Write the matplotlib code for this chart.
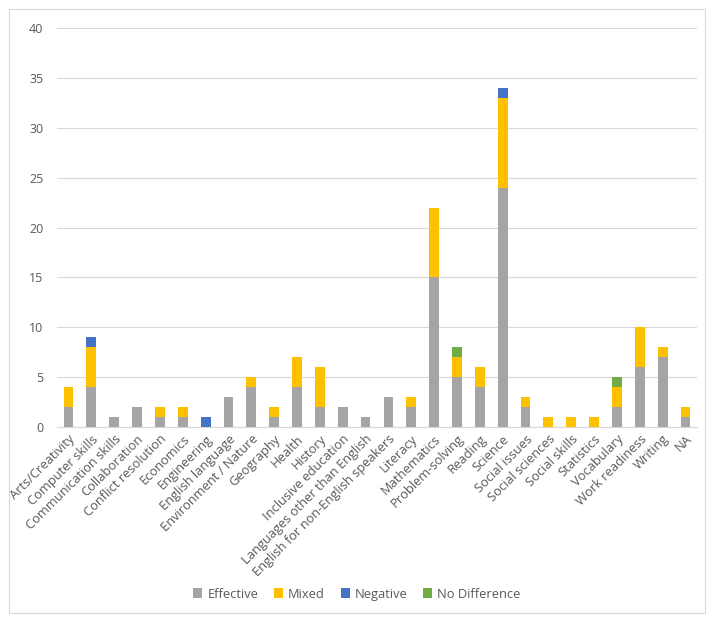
import matplotlib.pyplot as plt
import numpy as np
from matplotlib.patches import Rectangle

categories = ["Arts/Creativity", "Computer skills", "Communication skills", "Collaboration",
              "Conflict resolution", "Economics", "Engineering", "English language",
              "Environment / Nature", "Geography", "Health", "History", "Inclusive education",
              "Languages other than English", "English for non-English speakers", "Literacy",
              "Mathematics", "Problem-solving", "Reading", "Science", "Social issues",
              "Social sciences", "Social skills", "Statistics", "Vocabulary", "Work readiness",
              "Writing", "NA"]

effective = [2, 4, 1, 2, 1, 1, 0, 3, 4, 1, 4, 2, 2, 1, 3, 2, 15, 5, 4, 24, 2, 0, 0, 0, 2, 6, 7, 1]
mixed = [2, 4, 0, 0, 1, 1, 0, 0, 1, 1, 3, 4, 0, 0, 0, 1, 7, 2, 2, 9, 1, 1, 1, 1, 2, 4, 1, 1]
negative = [0, 1, 0, 0, 0, 0, 1, 0, 0, 0, 0, 0, 0, 0, 0, 0, 0, 0, 0, 1, 0, 0, 0, 0, 0, 0, 0, 0]
no_diff = [0, 0, 0, 0, 0, 0, 0, 0, 0, 0, 0, 0, 0, 0, 0, 0, 0, 1, 0, 0, 0, 0, 0, 0, 1, 0, 0, 0]

series = [("Effective", effective, "#A5A5A5"),
          ("Mixed", mixed, "#FFC000"),
          ("Negative", negative, "#4472C4"),
          ("No Difference", no_diff, "#70AD47")]

plt.rcParams['font.family'] = ['Open Sans', 'DejaVu Sans']

fig = plt.figure(figsize=(7.14, 6.22), dpi=100)
ax = fig.add_axes([0.080, 0.3135, 0.896, 0.641])

x = np.arange(len(categories))
bottom = np.zeros(len(categories))
for name, vals, color in series:
    vals = np.array(vals)
    ax.bar(x, vals, 0.43, bottom=bottom, color=color, label=name, zorder=3)
    bottom += vals

ax.set_ylim(0, 40)
ax.set_yticks(range(0, 41, 5))
ax.set_xlim(-0.5, len(categories) - 0.5)
ax.set_xticks(x)
ax.set_xticklabels(categories, rotation=45, ha='right', rotation_mode='anchor')
ax.tick_params(axis='both', length=0, colors='#595959', labelsize=9)
ax.tick_params(axis='x', labelsize=9.3, pad=4)
ax.tick_params(axis='y', pad=10)
ax.grid(axis='y', color='#D9D9D9', linewidth=0.8, zorder=0)
for s in ['top', 'right', 'left']:
    ax.spines[s].set_visible(False)
ax.spines['bottom'].set_color('#D9D9D9')

fig.legend(loc='center', bbox_to_anchor=(0.5, 0.045), ncol=4, frameon=False,
           fontsize=9.3, handlelength=0.7, handleheight=0.7, handletextpad=0.4,
           columnspacing=1.2, labelcolor='#595959')

fig.patches.append(Rectangle((0.013, 0.015), 0.974, 0.97, transform=fig.transFigure,
                             fill=False, edgecolor='#D9D9D9', linewidth=0.8))

fig.savefig("out.png", dpi=100)
